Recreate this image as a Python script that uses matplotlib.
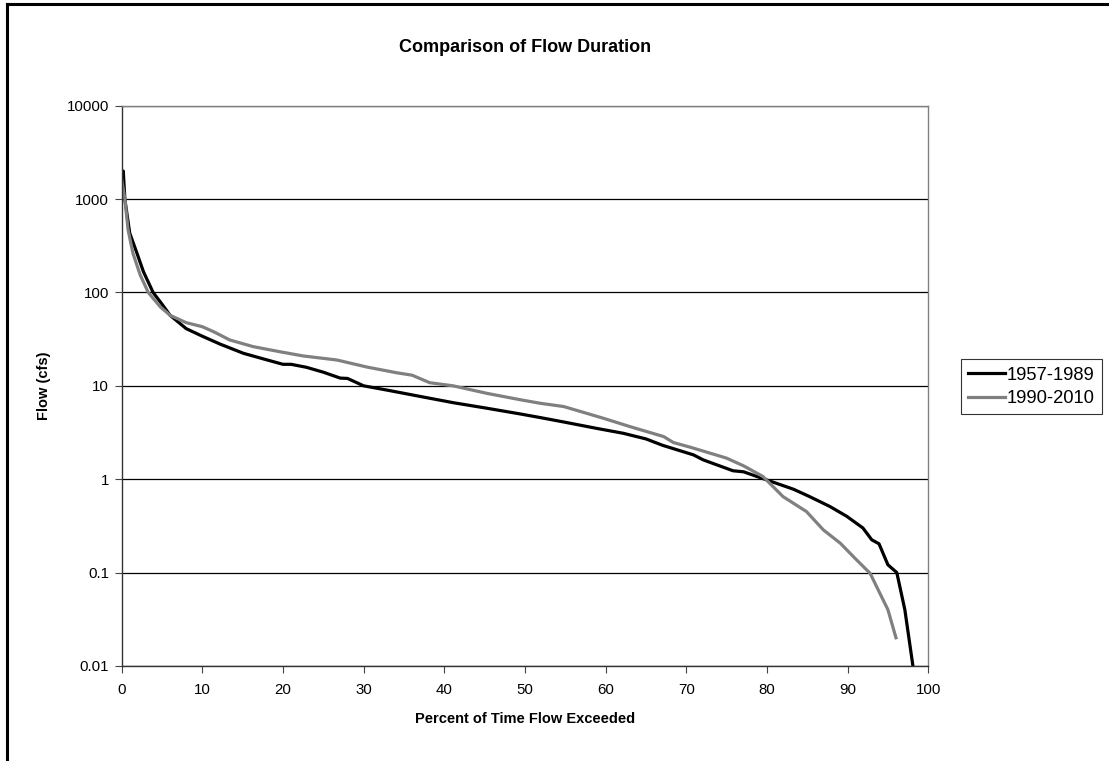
import numpy as np
import matplotlib
matplotlib.use('Agg')
import matplotlib.pyplot as plt
from matplotlib.lines import Line2D
from matplotlib.ticker import FixedLocator, FixedFormatter, NullLocator

plt.rcParams['font.family'] = ['Liberation Sans', 'DejaVu Sans']

# 1957-1989 flow duration (percent exceeded, cfs)
x_old = [0, 0.2, 0.4, 1.0, 1.9, 2.7, 3.9, 5.0, 6.0, 8.0, 10.0, 12.2, 15.1, 17.5,
         20.0, 21.0, 22.9, 25.0, 27.1, 28.0, 30.0, 32.9, 37.0, 41.1, 45.3, 49.4,
         51.9, 54.8, 58.9, 62.2, 65.0, 67.1, 70.9, 72.1, 75.8, 77.1, 80.0, 83.3,
         85.3, 87.8, 89.9, 91.9, 93.0, 93.9, 95.0, 96.1, 97.1, 98.1]
y_old = [1700, 2000, 990, 433, 263, 167, 100, 75, 57, 41, 34, 28, 22.3, 19.5,
         17.0, 17.0, 15.8, 14.0, 12.1, 12.0, 10.0, 9.0, 7.7, 6.6, 5.75, 5.0,
         4.57, 4.1, 3.5, 3.1, 2.7, 2.3, 1.82, 1.61, 1.23, 1.2, 0.98, 0.78,
         0.65, 0.51, 0.40, 0.30, 0.224, 0.203, 0.121, 0.10, 0.04, 0.01]

# 1990-2010 flow duration
x_new = [0, 0.4, 0.8, 1.4, 2.3, 3.3, 4.8, 6.0, 8.0, 10.0, 11.4, 13.4, 16.3,
         19.6, 22.5, 26.7, 30.4, 34.1, 36.0, 38.2, 41.1, 45.3, 49.4, 51.9,
         54.8, 59.7, 63.0, 67.2, 68.4, 70.5, 75.0, 77.1, 79.5, 82.0, 84.9,
         87.0, 89.1, 91.1, 92.8, 94.0, 95.0, 96.0]
y_new = [1620, 1000, 467, 263, 154, 100, 70, 57, 47.5, 43, 38, 31, 26.3,
         23.2, 20.9, 18.9, 15.9, 13.8, 13.0, 10.8, 10.0, 8.3, 7.1, 6.5,
         6.0, 4.5, 3.66, 2.86, 2.47, 2.2, 1.68, 1.39, 1.07, 0.65, 0.45,
         0.286, 0.206, 0.137, 0.098, 0.06, 0.04, 0.02]

fig = plt.figure(figsize=(11.09, 7.61), dpi=100)
ax = fig.add_axes([0.1097, 0.125, 0.7273, 0.736])

ax.plot(x_old, y_old, color='black', lw=2.3, label='1957-1989', solid_joinstyle='round')
ax.plot(x_new, y_new, color='#808080', lw=2.3, label='1990-2010', solid_joinstyle='round')

ax.set_yscale('log')
ax.set_xlim(0, 100)
ax.set_ylim(0.01, 10000)
yt = [0.01, 0.1, 1, 10, 100, 1000, 10000]
ax.yaxis.set_major_locator(FixedLocator(yt))
ax.yaxis.set_major_formatter(FixedFormatter(['0.01', '0.1', '1', '10', '100', '1000', '10000']))
ax.yaxis.set_minor_locator(NullLocator())
ax.set_xticks(range(0, 101, 10))
ax.tick_params(axis='both', direction='out', length=5, width=0.8, labelsize=10.8,
               color='#444444', pad=4)
ax.tick_params(axis='x', pad=7)
ax.grid(axis='y', which='major', color='black', lw=0.9)
ax.set_axisbelow(True)

for s in ['top', 'right']:
    ax.spines[s].set_color('#808080')
    ax.spines[s].set_linewidth(1.0)
for s in ['left', 'bottom']:
    ax.spines[s].set_color('#333333')
    ax.spines[s].set_linewidth(1.0)

ax.set_xlabel('Percent of Time Flow Exceeded', fontsize=10.5, fontweight='bold')
ax.set_ylabel('Flow (cfs)', fontsize=10.5, fontweight='bold')
ax.xaxis.set_label_coords(0.5, -0.082)
ax.yaxis.set_label_coords(-0.087, 0.5)

fig.text(525 / 1109, 1 - 47 / 761, 'Comparison of Flow Duration', ha='center', va='center',
         fontsize=13, fontweight='bold')

leg = ax.legend(loc='center left', bbox_to_anchor=(1.0405, 0.498), frameon=True, fancybox=False,
                fontsize=13.2, handlelength=2.0, handletextpad=0.1, borderpad=0.4,
                labelspacing=0.35, borderaxespad=0)
leg.get_frame().set_edgecolor('black')
leg.get_frame().set_linewidth(0.8)

# outer frame (left and top edges visible)
fig.add_artist(Line2D([7 / 1109, 7 / 1109], [0, 1 - 3.5 / 761], color='black', lw=2.2,
                      transform=fig.transFigure))
fig.add_artist(Line2D([7 / 1109, 1], [1 - 3.5 / 761, 1 - 3.5 / 761], color='black', lw=2.2,
                      transform=fig.transFigure))

fig.savefig('out.png', dpi=100)
